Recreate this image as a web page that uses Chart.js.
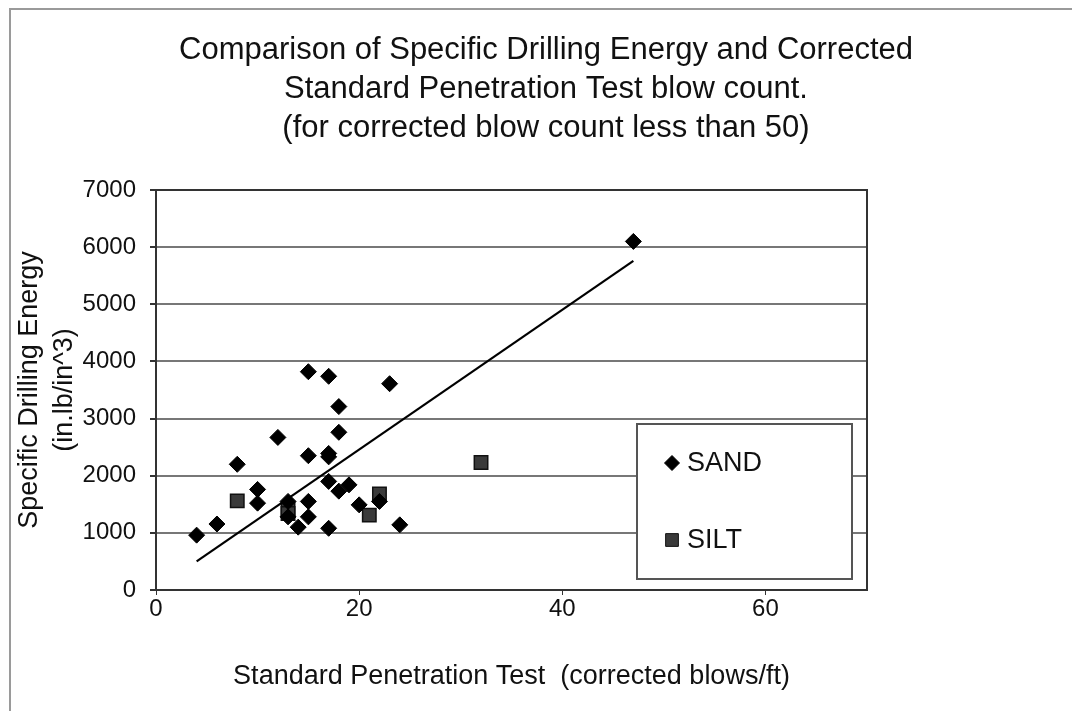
<!DOCTYPE html>
<html>
<head>
<meta charset="utf-8">
<script src="https://cdn.jsdelivr.net/npm/chart.js@4/dist/chart.umd.min.js"></script>
<style>
  html, body { margin: 0; padding: 0; background: #fff; }
  #wrap { width: 1072px; height: 711px; }
</style>
</head>
<body>
<div id="wrap"><canvas id="c" width="1072" height="711"></canvas></div>
<script>
// ---- Data ----
const titleLines = [
  'Comparison of Specific Drilling Energy and Corrected',
  'Standard Penetration Test blow count.',
  '(for corrected blow count less than 50)'
];
const xTitle = 'Standard Penetration Test  (corrected blows/ft)';
const yTitle = ['Specific Drilling Energy', '(in.lb/in^3)'];
const seriesNames = ['SAND', 'SILT'];

const sandX = [4, 6, 8, 10, 10, 12, 13, 13, 14, 15, 15, 15, 15, 17, 17, 17, 17, 17, 18, 18, 18, 19, 20, 22, 23, 24, 47];
const sandY = [960, 1155, 2200, 1760, 1520, 2670, 1550, 1280, 1100, 3820, 2350, 1550, 1280, 3740, 2390, 2330, 1900, 1080, 3210, 2760, 1730, 1840, 1490, 1550, 3610, 1140, 6100];

const siltX = [8, 13, 13, 21, 22, 32];
const siltY = [1560, 1420, 1340, 1310, 1680, 2230];

const trendX = [4, 47];
const trendY = [500, 5760];

const xTicks = [0, 20, 40, 60];
const xMin = 0, xMax = 70;
const yMin = 0, yMax = 7000, yStep = 1000;

// ---- Build ----
const FONT = "Arial, 'Liberation Sans', Helvetica, sans-serif";
Chart.defaults.font.family = FONT;
Chart.defaults.color = '#111';

const pts = (xs, ys) => xs.map((x, i) => ({ x: x, y: ys[i] }));

const decorPlugin = {
  id: 'decor',
  beforeDraw(chart) {
    const ctx = chart.ctx;
    ctx.save();
    ctx.fillStyle = '#fff';
    ctx.fillRect(0, 0, chart.width, chart.height);
    // page frame (top + left)
    ctx.strokeStyle = '#9a9a9a';
    ctx.lineWidth = 2;
    ctx.beginPath();
    ctx.moveTo(10, chart.height);
    ctx.lineTo(10, 9);
    ctx.lineTo(chart.width, 9);
    ctx.stroke();
    ctx.restore();
  },
  afterDatasetsDraw(chart) {
    const ctx = chart.ctx;
    const a = chart.chartArea;
    ctx.save();
    // plot border
    ctx.strokeStyle = '#333';
    ctx.lineWidth = 2;
    ctx.strokeRect(a.left, a.top, a.right - a.left, a.bottom - a.top);
    // legend box
    const lx = 637, ly = 424, lw = 215, lh = 155;
    ctx.fillStyle = '#fff';
    ctx.fillRect(lx, ly, lw, lh);
    ctx.strokeStyle = '#555';
    ctx.lineWidth = 2;
    ctx.strokeRect(lx, ly, lw, lh);
    const entries = [
      { ds: chart.data.datasets[0], y: 463, r: 7.5 },
      { ds: chart.data.datasets[1], y: 540, r: 7.5 }
    ];
    ctx.font = '27px ' + FONT;
    ctx.textBaseline = 'middle';
    ctx.textAlign = 'left';
    entries.forEach(e => {
      ctx.fillStyle = e.ds.backgroundColor;
      ctx.strokeStyle = e.ds.borderColor;
      ctx.lineWidth = 1;
      ctx.beginPath();
      if (e.ds.pointStyle === 'rectRot') {
        ctx.moveTo(672, e.y - e.r); ctx.lineTo(672 + e.r, e.y);
        ctx.lineTo(672, e.y + e.r); ctx.lineTo(672 - e.r, e.y);
      } else {
        const s = e.r * 0.85;
        ctx.rect(672 - s, e.y - s, 2 * s, 2 * s);
      }
      ctx.closePath();
      ctx.fill(); ctx.stroke();
      ctx.fillStyle = '#111';
      ctx.fillText(e.ds.label, 687, e.y + 1);
    });
    ctx.restore();
  },
  afterDraw(chart) {
    const ctx = chart.ctx;
    ctx.save();
    ctx.font = '31px ' + FONT;
    ctx.fillStyle = '#111';
    ctx.textAlign = 'center';
    ctx.textBaseline = 'middle';
    titleLines.forEach((t, i) => ctx.fillText(t, 546, 50 + i * 39));
    ctx.restore();
  }
};

new Chart(document.getElementById('c'), {
  type: 'scatter',
  data: {
    datasets: [
      {
        label: seriesNames[0],
        data: pts(sandX, sandY),
        pointStyle: 'rectRot',
        pointRadius: 8,
        backgroundColor: '#000',
        borderColor: '#000',
        borderWidth: 1,
        order: 2
      },
      {
        label: seriesNames[1],
        data: pts(siltX, siltY),
        pointStyle: 'rect',
        pointRadius: 9.5,
        backgroundColor: '#3a3a3a',
        borderColor: '#111',
        borderWidth: 1.5,
        order: 3
      },
      {
        label: 'Trend',
        type: 'line',
        data: pts(trendX, trendY),
        borderColor: '#000',
        borderWidth: 2.2,
        pointRadius: 0,
        fill: false,
        tension: 0,
        order: 1
      }
    ]
  },
  options: {
    responsive: false,
    animation: false,
    events: [],
    layout: { padding: { left: 0, top: 190, right: 205, bottom: 0 } },
    plugins: {
      legend: { display: false },
      title: { display: false },
      tooltip: { enabled: false }
    },
    scales: {
      x: {
        type: 'linear',
        min: xMin, max: xMax,
        afterFit(s) { s.height = 121; },
        afterBuildTicks(s) { s.ticks = xTicks.map(v => ({ value: v })); },
        ticks: { font: { size: 24 }, color: '#111', padding: 0, maxRotation: 0, callback: v => String(v) },
        grid: { drawOnChartArea: false, drawTicks: true, tickLength: 5, tickColor: '#333', color: '#333' },
        border: { display: true, color: '#333', width: 2 },
        title: {
          display: true, text: xTitle, color: '#111',
          font: { size: 27, lineHeight: 1.2 },
          padding: { top: 0, bottom: 18 }
        }
      },
      y: {
        type: 'linear',
        min: yMin, max: yMax,
        afterFit(s) { s.width = 156; },
        ticks: { stepSize: yStep, font: { size: 24 }, color: '#111', padding: 14, callback: v => String(v) },
        grid: { color: '#777', lineWidth: 2, drawTicks: true, tickLength: 6, tickColor: '#333' },
        border: { display: true, color: '#333', width: 2 },
        title: {
          display: true, text: yTitle, color: '#111',
          font: { size: 27, lineHeight: 1.3 },
          padding: { top: 12, bottom: 0 }
        }
      }
    }
  },
  plugins: [decorPlugin]
});
</script>
</body>
</html>
